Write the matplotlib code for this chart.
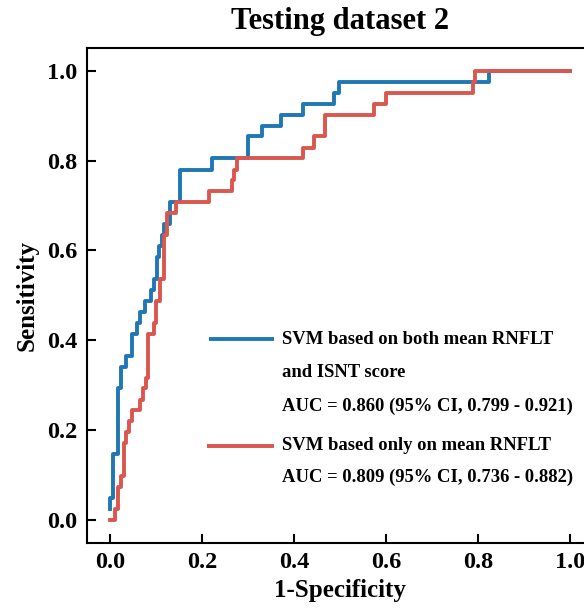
import matplotlib
matplotlib.use("Agg")
import matplotlib.pyplot as plt

# ROC points (x where the curve rises, level reached)
fpr_both = [0.0, 0.0, 0.007, 0.017, 0.024, 0.036, 0.048, 0.059, 0.066, 0.077,
            0.089, 0.096, 0.103, 0.108, 0.114, 0.117, 0.130, 0.131, 0.152,
            0.223, 0.300, 0.330, 0.373, 0.420, 0.487, 0.498, 0.825, 1.0]
tpr_both = [0.024, 0.049, 0.146, 0.293, 0.341, 0.366, 0.415, 0.439, 0.463, 0.488,
            0.512, 0.537, 0.585, 0.610, 0.634, 0.659, 0.683, 0.707, 0.780,
            0.805, 0.854, 0.878, 0.902, 0.927, 0.951, 0.976, 1.0, 1.0]

fpr_mean = [0.0, 0.0115, 0.018, 0.024, 0.030, 0.035, 0.041, 0.048, 0.066, 0.072,
            0.078, 0.084, 0.096, 0.100, 0.109, 0.119, 0.125, 0.145, 0.2155,
            0.2646, 0.2697, 0.2755, 0.420, 0.4447, 0.4685, 0.5734, 0.601, 0.789,
            0.7926, 1.0]
tpr_mean = [0.0, 0.024, 0.073, 0.098, 0.171, 0.195, 0.220, 0.244, 0.268, 0.293,
            0.317, 0.415, 0.439, 0.488, 0.537, 0.634, 0.683, 0.707, 0.732,
            0.756, 0.780, 0.805, 0.829, 0.854, 0.902, 0.927, 0.951, 0.976,
            1.0, 1.0]

label_both = ["SVM based on both mean RNFLT", "and ISNT score",
              "AUC = 0.860 (95% CI, 0.799 - 0.921)"]
label_mean = ["SVM based only on mean RNFLT",
              "AUC = 0.809 (95% CI, 0.736 - 0.882)"]

title = "Testing dataset 2"
xlabel = "1-Specificity"
ylabel = "Sensitivity"
ticks = [0.0, 0.2, 0.4, 0.6, 0.8, 1.0]

BLUE = "#1f77b4"
RED = "#d9574f"

plt.rcParams["font.family"] = ["Liberation Serif", "DejaVu Serif"]
plt.rcParams["font.weight"] = "bold"

W, H = 584, 608
fig = plt.figure(figsize=(W / 100, H / 100), dpi=100)
left, right, top, bottom = 86.7, 593.0, 48.3, 542.5
ax = fig.add_axes([left / W, 1 - bottom / H, (right - left) / W, (bottom - top) / H])

ax.plot(fpr_both, tpr_both, drawstyle="steps-post", color=BLUE, lw=2.8, zorder=3)
ax.plot(fpr_mean, tpr_mean, drawstyle="steps-post", color=RED, lw=2.8, zorder=4)

ax.set_xlim(-0.05, 1.05)
ax.set_ylim(-0.05, 1.05)
ax.set_xticks(ticks)
ax.set_yticks(ticks)
ax.set_xticklabels([f"{t:.1f}" for t in ticks])
ax.set_yticklabels([f"{t:.1f}" for t in ticks])
ax.tick_params(direction="in", length=6.5, width=1.5, labelsize=17.5, pad=6.5)
for lab in ax.get_xticklabels() + ax.get_yticklabels():
    lab.set_fontweight("bold")
for s in ax.spines.values():
    s.set_linewidth(1.5)

ax.set_title(title, fontsize=22, fontweight="bold", pad=14)
ax.set_xlabel(xlabel, fontsize=18, fontweight="bold", labelpad=5)
ax.set_ylabel(ylabel, fontsize=18, fontweight="bold", labelpad=6)

# legend drawn manually (handle aligned with first text line)
lx0, lx1, tx = 0.216, 0.358, 0.375
rows_both = [0.402, 0.328, 0.254]
rows_mean = [0.165, 0.094]
ax.plot([lx0, lx1], [rows_both[0]] * 2, color=BLUE, lw=2.8, solid_capstyle="butt")
ax.plot([lx0 - 0.004, lx1], [rows_mean[0]] * 2, color=RED, lw=2.8, solid_capstyle="butt")
for y, t in zip(rows_both, label_both):
    ax.text(tx, y, t, fontsize=13.4, fontweight="bold", va="center", ha="left")
for y, t in zip(rows_mean, label_mean):
    ax.text(tx, y, t, fontsize=13.4, fontweight="bold", va="center", ha="left")

fig.savefig("out.png", dpi=100)
